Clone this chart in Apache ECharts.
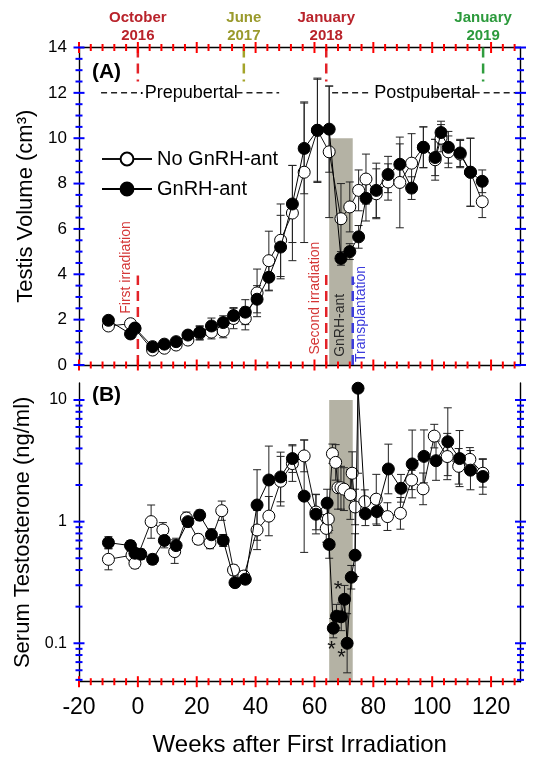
<!DOCTYPE html>
<html><head><meta charset="utf-8">
<script src="https://cdn.jsdelivr.net/npm/echarts@6/dist/echarts.min.js"></script>
<style>html,body{margin:0;padding:0;background:#fff}#c{width:537px;height:760px}</style>
</head><body><div id="c"></div>
<script>
// ---------------- data ----------------
const weeksA   = [-10, -2.5, -1, 5, 9, 13, 17, 21, 25, 29, 32.5, 36.5, 40.5, 44.5, 48.5, 52.5, 56.5, 61, 65, 69, 72, 75, 77.5, 81, 85, 89, 93, 97, 101, 103, 105.5, 109.5, 113, 117];
const gnrhA    = [1.97, 1.37, 1.63, 0.81, 0.92, 1.03, 1.32, 1.43, 1.72, 1.87, 2.18, 2.33, 2.9, 3.87, 5.2, 7.1, 9.55, 10.35, 10.4, 4.7, 5.0, 5.65, 7.35, 7.7, 8.4, 8.85, 7.8, 9.6, 9.15, 10.25, 9.6, 9.35, 8.5, 8.1];
const gnrhA_sd = [0.15, 0.1, 0.15, 0.1, 0.1, 0.12, 0.12, 0.3, 0.35, 0.3, 0.35, 0.55, 0.6, 0.6, 1.4, 1.7, 2.0, 2.25, 1.9, 0.3, 0.35, 0.5, 1.0, 1.2, 0.8, 0.9, 0.5, 0.9, 0.8, 0.5, 0.7, 0.6, 1.5, 0.5];
const noA      = [1.72, 1.82, 1.6, 0.66, 0.74, 0.88, 1.1, 1.4, 1.45, 1.5, 2.05, 2.05, 3.18, 4.6, 5.5, 6.7, 8.5, 10.35, 9.4, 6.45, 6.97, 7.7, 8.2, 7.55, 8.07, 8.05, 8.9, 9.6, 9.05, 10.0, 9.4, 9.3, 8.5, 7.2];
const noA_sd   = [0.2, 0.1, 0.15, 0.12, 0.12, 0.12, 0.15, 0.3, 0.3, 0.3, 0.45, 0.5, 1.05, 1.3, 1.6, 2.1, 3.1, 2.3, 2.9, 1.55, 1.1, 0.9, 1.1, 1.1, 0.8, 2.0, 1.3, 0.9, 0.9, 0.6, 0.7, 0.6, 1.5, 0.7];
const weeksB_g = [-10, -2.5, -1, 1, 5, 9, 13, 17, 21, 25, 29, 33, 36.5, 40.5, 44.5, 48.5, 52.5, 56.5, 60.5, 64.3, 65, 66.4, 67.5, 69.1, 70.2, 71.1, 72.5, 73.8, 74.8, 77.3, 81.2, 85.1, 89.4, 93.2, 97.2, 101.3, 105.3, 109.3, 113, 117.2];
const gnrhB    = [0.672, 0.635, 0.55, 0.54, 0.49, 0.70, 0.635, 1.0, 1.13, 0.78, 0.70, 0.315, 0.336, 1.37, 2.2, 2.33, 3.3, 1.62, 1.15, 1.42, 0.65, 0.133, 0.167, 0.165, 0.23, 0.10, 0.349, 0.53, 12.5, 1.16, 1.21, 2.71, 1.88, 2.98, 3.44, 3.17, 4.54, 3.3, 2.65, 2.35];
const gnrhB_f  = [1.12, 1.1, 1.1, 1.1, 1.1, 1.15, 1.15, 1.1, 1.1, 1.12, 1.12, 1.08, 1.08, 1.95, 1.9, 1.6, 1.3, 2.9, 1.45, 1.3, 1.3, 1.2, 1.25, 1.3, 1.3, 1.75, 1.25, 1.5, 5.0, 1.25, 1.3, 1.6, 1.3, 1.9, 1.65, 1.45, 1.9, 1.7, 1.45, 1.4];
const weeksB_n = [-10, -2, -1, 4.5, 8.5, 12.5, 16.5, 20.5, 24.5, 28.5, 32.5, 36, 40.5, 44.5, 48.5, 52.5, 56.5, 60.5, 64, 64.7, 66.1, 67.2, 68, 69, 70, 72.2, 72.8, 73.8, 77.1, 81, 84.8, 89.2, 93, 96.9, 100.7, 105.1, 109, 112.8, 117.2];
const noB      = [0.49, 0.53, 0.455, 1.0, 0.854, 0.567, 1.07, 0.716, 0.67, 1.23, 0.40, 0.357, 0.854, 1.11, 2.15, 3.0, 3.47, 1.2, 0.88, 1.05, 3.62, 3.07, 1.9, 1.9, 1.85, 1.67, 2.5, 1.32, 1.46, 1.53, 1.1, 1.17, 2.2, 1.86, 5.05, 3.43, 2.85, 3.25, 2.5];
const noB_f    = [1.22, 1.1, 1.1, 1.37, 1.15, 1.25, 1.12, 1.1, 1.12, 1.2, 1.1, 1.1, 1.45, 1.45, 1.6, 1.4, 1.35, 1.4, 1.3, 1.3, 1.2, 1.4, 1.5, 1.5, 1.5, 1.6, 1.5, 1.4, 1.25, 1.6, 1.3, 1.35, 1.2, 1.35, 1.25, 1.55, 1.4, 1.25, 1.3];
const starWeeks  = [68.0, 65.8, 69.2];
const starValues = [0.30, 0.097, 0.083];
const xTickLabels  = [-20, 0, 20, 40, 60, 80, 100, 120];
const yTickLabelsA = [0, 2, 4, 6, 8, 10, 12, 14];
const yTickLabelsB = [0.1, 1, 10];
const calendarLabels = ['October\n2016', 'June\n2017', 'January\n2018', 'January\n2019'];
const calendarWeeks  = [0, 36, 64, 117.3];
const firstIrradiation = 0, secondIrradiation = 64, transplantation = 73;
const gnrhStart = 65, gnrhEnd = 73, bandTop = 10;

// ---------------- chart ----------------
const FONT = '"Liberation Sans", Arial, Helvetica, sans-serif';
const X_MIN = -20, X_MAX = 130, A_MIN = 0, A_MAX = 14, B_MIN = 0.0483, B_MAX = 13.8;
const RED = '#e32228', OLIVE = '#a4a42a', GREEN = '#2f9d3e', BLUE = '#3b3bdc';
const RED_T = '#b9232b', OLIVE_T = '#9a9a2c', GREEN_T = '#2c9a3c';
const calColors = [[RED, RED_T], [OLIVE, OLIVE_T], [RED, RED_T], [GREEN, GREEN_T]];

const zip = (a, b, c) => a.map((v, i) => c ? [v, b[i], c[i]] : [v, b[i]]);
const ln = (x1, y1, x2, y2, stroke, lw, dash) => {
  const st = { stroke: stroke || '#000', lineWidth: lw || 1 };
  if (dash) st.lineDash = dash;
  return { type: 'line', shape: { x1, y1, x2, y2 }, style: st };
};
const tx = (x, y, text, opt) => ({
  type: 'text', x, y, rotation: opt.rot || 0,
  style: { text, fill: opt.color || '#000', font: (opt.weight || 'normal') + ' ' + opt.size + 'px ' + FONT,
           align: opt.align || 'center', verticalAlign: opt.va || 'middle', lineHeight: opt.lh }
});

function tickItems(yMin, yMax, yTicks, top) {
  const out = [];
  for (let w = X_MIN; w <= X_MAX; w += 4) {
    const mj = (w % 20 === 0) ? 1 : 0;
    out.push([w, yMin, 0, mj]);
    if (top) out.push([w, yMax, 0, mj]);
  }
  yTicks.forEach(t => { out.push([X_MIN, t[0], 1, t[1] ? 1 : 0]); out.push([X_MAX, t[0], 1, t[1] ? 1 : 0]); });
  return out;
}
const yTicksA = [];
for (let k = 0; k <= 28; k++) yTicksA.push([k * 0.5, k % 4 === 0]);
const yTicksB = [];
for (let d = -2; d <= 1; d++) for (let m = 1; m <= 9; m++) {
  const v = m * Math.pow(10, d);
  if (v >= B_MIN && v <= B_MAX) yTicksB.push([v, m === 1]);
}
function tickRender(params, api) {
  const p = api.coord([api.value(0), api.value(1)]);
  const L = api.value(3) ? 5.5 : 3.5;
  if (api.value(2) === 0) return { type: 'line', shape: { x1: p[0], y1: p[1] - L, x2: p[0], y2: p[1] + L }, style: { stroke: '#f00', lineWidth: 2 } };
  return { type: 'line', shape: { x1: p[0] - L, y1: p[1], x2: p[0] + L, y2: p[1] }, style: { stroke: '#00f', lineWidth: 2 } };
}

function errRender(yMin, yMax, mult) {
  return function (params, api) {
    const x = api.value(0), y = api.value(1), e = api.value(2);
    let hi = mult ? y * e : y + e, lo = mult ? y / e : y - e, cH = true, cL = true;
    if (hi > yMax) { hi = yMax; cH = false; }
    if (lo < yMin) { lo = yMin; cL = false; }
    const p1 = api.coord([x, hi]), p2 = api.coord([x, lo]);
    const ch = [ln(p1[0], p1[1], p2[0], p2[1], '#222', 1)];
    if (cH) ch.push(ln(p1[0] - 4, p1[1], p1[0] + 4, p1[1], '#222', 1));
    if (cL) ch.push(ln(p2[0] - 4, p2[1], p2[0] + 4, p2[1], '#222', 1));
    return { type: 'group', children: ch };
  };
}

function bandRender(yMin) {
  return function (params, api) {
    const p1 = api.coord([gnrhStart, bandTop]), p2 = api.coord([gnrhEnd, yMin]);
    return { type: 'rect', shape: { x: p1[0], y: p1[1], width: p2[0] - p1[0], height: p2[1] - p1[1] },
             style: { fill: '#b4b2a4' } };
  };
}

function annotARender(params, api) {
  const ch = [];
  const DASH = [10, 6];
  calendarWeeks.forEach((w, i) => {
    const p = api.coord([w, A_MAX]), q = api.coord([w, 12.5]);
    ch.push(ln(p[0], p[1], q[0], q[1], calColors[i][0], 2.5, DASH));
    ch.push(tx(p[0], p[1] - 3, calendarLabels[i], { size: 15, weight: 'bold', color: calColors[i][1], va: 'bottom', lh: 18 }));
  });
  [[firstIrradiation, RED, 3.95], [secondIrradiation, RED, 4.0], [transplantation, BLUE, 3.9]].forEach(e => {
    const p = api.coord([e[0], A_MIN]), q = api.coord([e[0], e[2]]);
    ch.push(ln(p[0], p[1], q[0], q[1], e[1], 2.5, DASH));
  });
  const seg = (a, b) => { const p = api.coord([a, 12]), q = api.coord([b, 12]); ch.push(ln(p[0], p[1], q[0], q[1], '#222', 1.5, [6, 4])); };
  seg(-12.5, -0.3); seg(33.5, 48); seg(66, 79.5); seg(100.5, 130);
  let p = api.coord([0.3, 12]);
  ch.push(tx(p[0], p[1], '\u00b7Prepubertal', { size: 18, align: 'left' }));
  p = api.coord([80.3, 12]);
  ch.push(tx(p[0], p[1], 'Postpubertal', { size: 18, align: 'left' }));
  p = api.coord([-15.6, 12.9]);
  ch.push(tx(p[0], p[1], '(A)', { size: 21, weight: 'bold', align: 'left' }));
  const R = Math.PI / 2;
  p = api.coord([-4, 4.3]);  ch.push(tx(p[0], p[1], 'First irradiation', { size: 14, color: '#d43636', rot: R }));
  p = api.coord([60.3, 2.95]); ch.push(tx(p[0], p[1], 'Second irradiation', { size: 14, color: '#d43636', rot: R }));
  p = api.coord([68.7, 1.75]); ch.push(tx(p[0], p[1], 'GnRH-ant', { size: 14, color: '#2a2a2a', rot: R }));
  p = api.coord([75.8, 2.25]); ch.push(tx(p[0], p[1], 'Transplantation', { size: 14, color: BLUE, rot: R }));
  return { type: 'group', children: ch };
}

function annotBRender(params, api) {
  const ch = [];
  const p = api.coord([-15.6, 11.0]);
  ch.push(tx(p[0], p[1], '(B)', { size: 21, weight: 'bold', align: 'left' }));
  starWeeks.forEach((w, i) => {
    const q = api.coord([w, starValues[i]]);
    ch.push(tx(q[0], q[1] + 5, '*', { size: 22, color: '#111' }));
  });
  return { type: 'group', children: ch };
}

const axisLine = { show: true, onZero: false, lineStyle: { color: '#000', width: 1.4 } };
const plainX = (grid, pos) => ({ gridIndex: grid, type: 'value', min: X_MIN, max: X_MAX, interval: 20, position: pos,
  axisLine, axisTick: { show: false }, axisLabel: { show: false }, splitLine: { show: false } });

const chart = echarts.init(document.getElementById('c'), null, { renderer: 'canvas' });
const option = {
  animation: false,
  legend: {
    data: ['No GnRH-ant', 'GnRH-ant'], orient: 'vertical', left: 96, top: 144,
    itemWidth: 50, itemHeight: 16, itemGap: 10, selectedMode: false,
    textStyle: { fontSize: 20, color: '#000', fontFamily: FONT }
  },
  grid: [
    { left: 79, width: 441.5, top: 47.5, height: 317.5 },
    { left: 79, width: 441.5, top: 383, height: 298.7 }
  ],
  xAxis: [
    plainX(0, 'bottom'),
    plainX(0, 'top'),
    Object.assign(plainX(1, 'bottom'), {
      axisLabel: { show: true, fontSize: 23, color: '#000', margin: 14, fontFamily: FONT,
                   formatter: v => xTickLabels.indexOf(v) >= 0 ? String(v) : '' },
      name: 'Weeks after First Irradiation', nameLocation: 'middle', nameGap: 52,
      nameTextStyle: { fontSize: 24, color: '#000', fontFamily: FONT }
    })
  ],
  yAxis: [
    { gridIndex: 0, type: 'value', min: A_MIN, max: A_MAX, interval: 2, position: 'left', axisLine,
      axisTick: { show: false }, splitLine: { show: false },
      axisLabel: { fontSize: 17, color: '#000', margin: 12, fontFamily: FONT,
                   formatter: v => yTickLabelsA.indexOf(v) >= 0 ? String(v) : '' },
      name: 'Testis Volume (cm\u00b3)', nameLocation: 'middle', nameRotate: 90, nameGap: 37,
      nameTextStyle: { fontSize: 22, color: '#000', fontFamily: FONT } },
    { gridIndex: 0, type: 'value', min: A_MIN, max: A_MAX, interval: 2, position: 'right', axisLine,
      axisTick: { show: false }, axisLabel: { show: false }, splitLine: { show: false } },
    { gridIndex: 1, type: 'log', logBase: 10, min: B_MIN, max: B_MAX, position: 'left', axisLine,
      axisTick: { show: false }, splitLine: { show: false }, minorTick: { show: false },
      axisLabel: { fontSize: 16, color: '#000', margin: 12, fontFamily: FONT,
        formatter: v => { const f = yTickLabelsB.find(t => Math.abs(v / t - 1) < 1e-6); return f === undefined ? '' : String(f); } },
      name: 'Serum Testosterone (ng/ml)', nameLocation: 'middle', nameRotate: 90, nameGap: 37,
      nameTextStyle: { fontSize: 22, color: '#000', fontFamily: FONT } },
    { gridIndex: 1, type: 'log', logBase: 10, min: B_MIN, max: B_MAX, position: 'right', axisLine,
      axisTick: { show: false }, axisLabel: { show: false }, splitLine: { show: false } }
  ],
  series: [
    { type: 'custom', xAxisIndex: 0, yAxisIndex: 0, data: tickItems(A_MIN, A_MAX, yTicksA, true), encode: { x: 0, y: 1 }, renderItem: tickRender, clip: false, silent: true, z: 7 },
    { type: 'custom', xAxisIndex: 2, yAxisIndex: 2, data: tickItems(B_MIN, B_MAX, yTicksB, false), encode: { x: 0, y: 1 }, renderItem: tickRender, clip: false, silent: true, z: 7 },
    { type: 'custom', xAxisIndex: 0, yAxisIndex: 0, data: [[gnrhStart, bandTop]], renderItem: bandRender(A_MIN), clip: false, silent: true, z: 0 },
    { type: 'custom', xAxisIndex: 2, yAxisIndex: 2, data: [[gnrhStart, bandTop]], renderItem: bandRender(B_MIN), clip: false, silent: true, z: 0 },
    { type: 'custom', xAxisIndex: 0, yAxisIndex: 0, data: [[0, 0]], renderItem: annotARender, clip: false, silent: true, z: 2 },
    { type: 'custom', xAxisIndex: 0, yAxisIndex: 0, data: zip(weeksA, noA, noA_sd), encode: { x: 0, y: 1 }, renderItem: errRender(A_MIN, A_MAX, false), clip: false, silent: true, z: 3 },
    { type: 'custom', xAxisIndex: 0, yAxisIndex: 0, data: zip(weeksA, gnrhA, gnrhA_sd), encode: { x: 0, y: 1 }, renderItem: errRender(A_MIN, A_MAX, false), clip: false, silent: true, z: 3 },
    { type: 'custom', xAxisIndex: 2, yAxisIndex: 2, data: zip(weeksB_n, noB, noB_f), encode: { x: 0, y: 1 }, renderItem: errRender(B_MIN, B_MAX, true), clip: false, silent: true, z: 3 },
    { type: 'custom', xAxisIndex: 2, yAxisIndex: 2, data: zip(weeksB_g, gnrhB, gnrhB_f), encode: { x: 0, y: 1 }, renderItem: errRender(B_MIN, B_MAX, true), clip: false, silent: true, z: 3 },
    { type: 'line', name: 'No GnRH-ant', xAxisIndex: 0, yAxisIndex: 0, data: zip(weeksA, noA), symbol: 'circle', symbolSize: 12,
      lineStyle: { color: '#111', width: 1 }, itemStyle: { color: '#fff', borderColor: '#000', borderWidth: 1 }, z: 4, silent: true, emphasis: { disabled: true } },
    { type: 'line', name: 'GnRH-ant', xAxisIndex: 0, yAxisIndex: 0, data: zip(weeksA, gnrhA), symbol: 'circle', symbolSize: 12,
      lineStyle: { color: '#000', width: 1 }, itemStyle: { color: '#000', borderColor: '#000', borderWidth: 1 }, z: 5, silent: true, emphasis: { disabled: true } },
    { type: 'line', name: 'No GnRH-ant', xAxisIndex: 2, yAxisIndex: 2, data: zip(weeksB_n, noB), symbol: 'circle', symbolSize: 12,
      lineStyle: { color: '#111', width: 1 }, itemStyle: { color: '#fff', borderColor: '#000', borderWidth: 1 }, z: 4, silent: true, emphasis: { disabled: true } },
    { type: 'line', name: 'GnRH-ant', xAxisIndex: 2, yAxisIndex: 2, data: zip(weeksB_g, gnrhB), symbol: 'circle', symbolSize: 12,
      lineStyle: { color: '#000', width: 1 }, itemStyle: { color: '#000', borderColor: '#000', borderWidth: 1 }, z: 5, silent: true, emphasis: { disabled: true } },
    { type: 'custom', xAxisIndex: 2, yAxisIndex: 2, data: [[0, 1]], renderItem: annotBRender, clip: false, silent: true, z: 6 }
  ]
};
chart.setOption(option);
</script>
</body></html>
